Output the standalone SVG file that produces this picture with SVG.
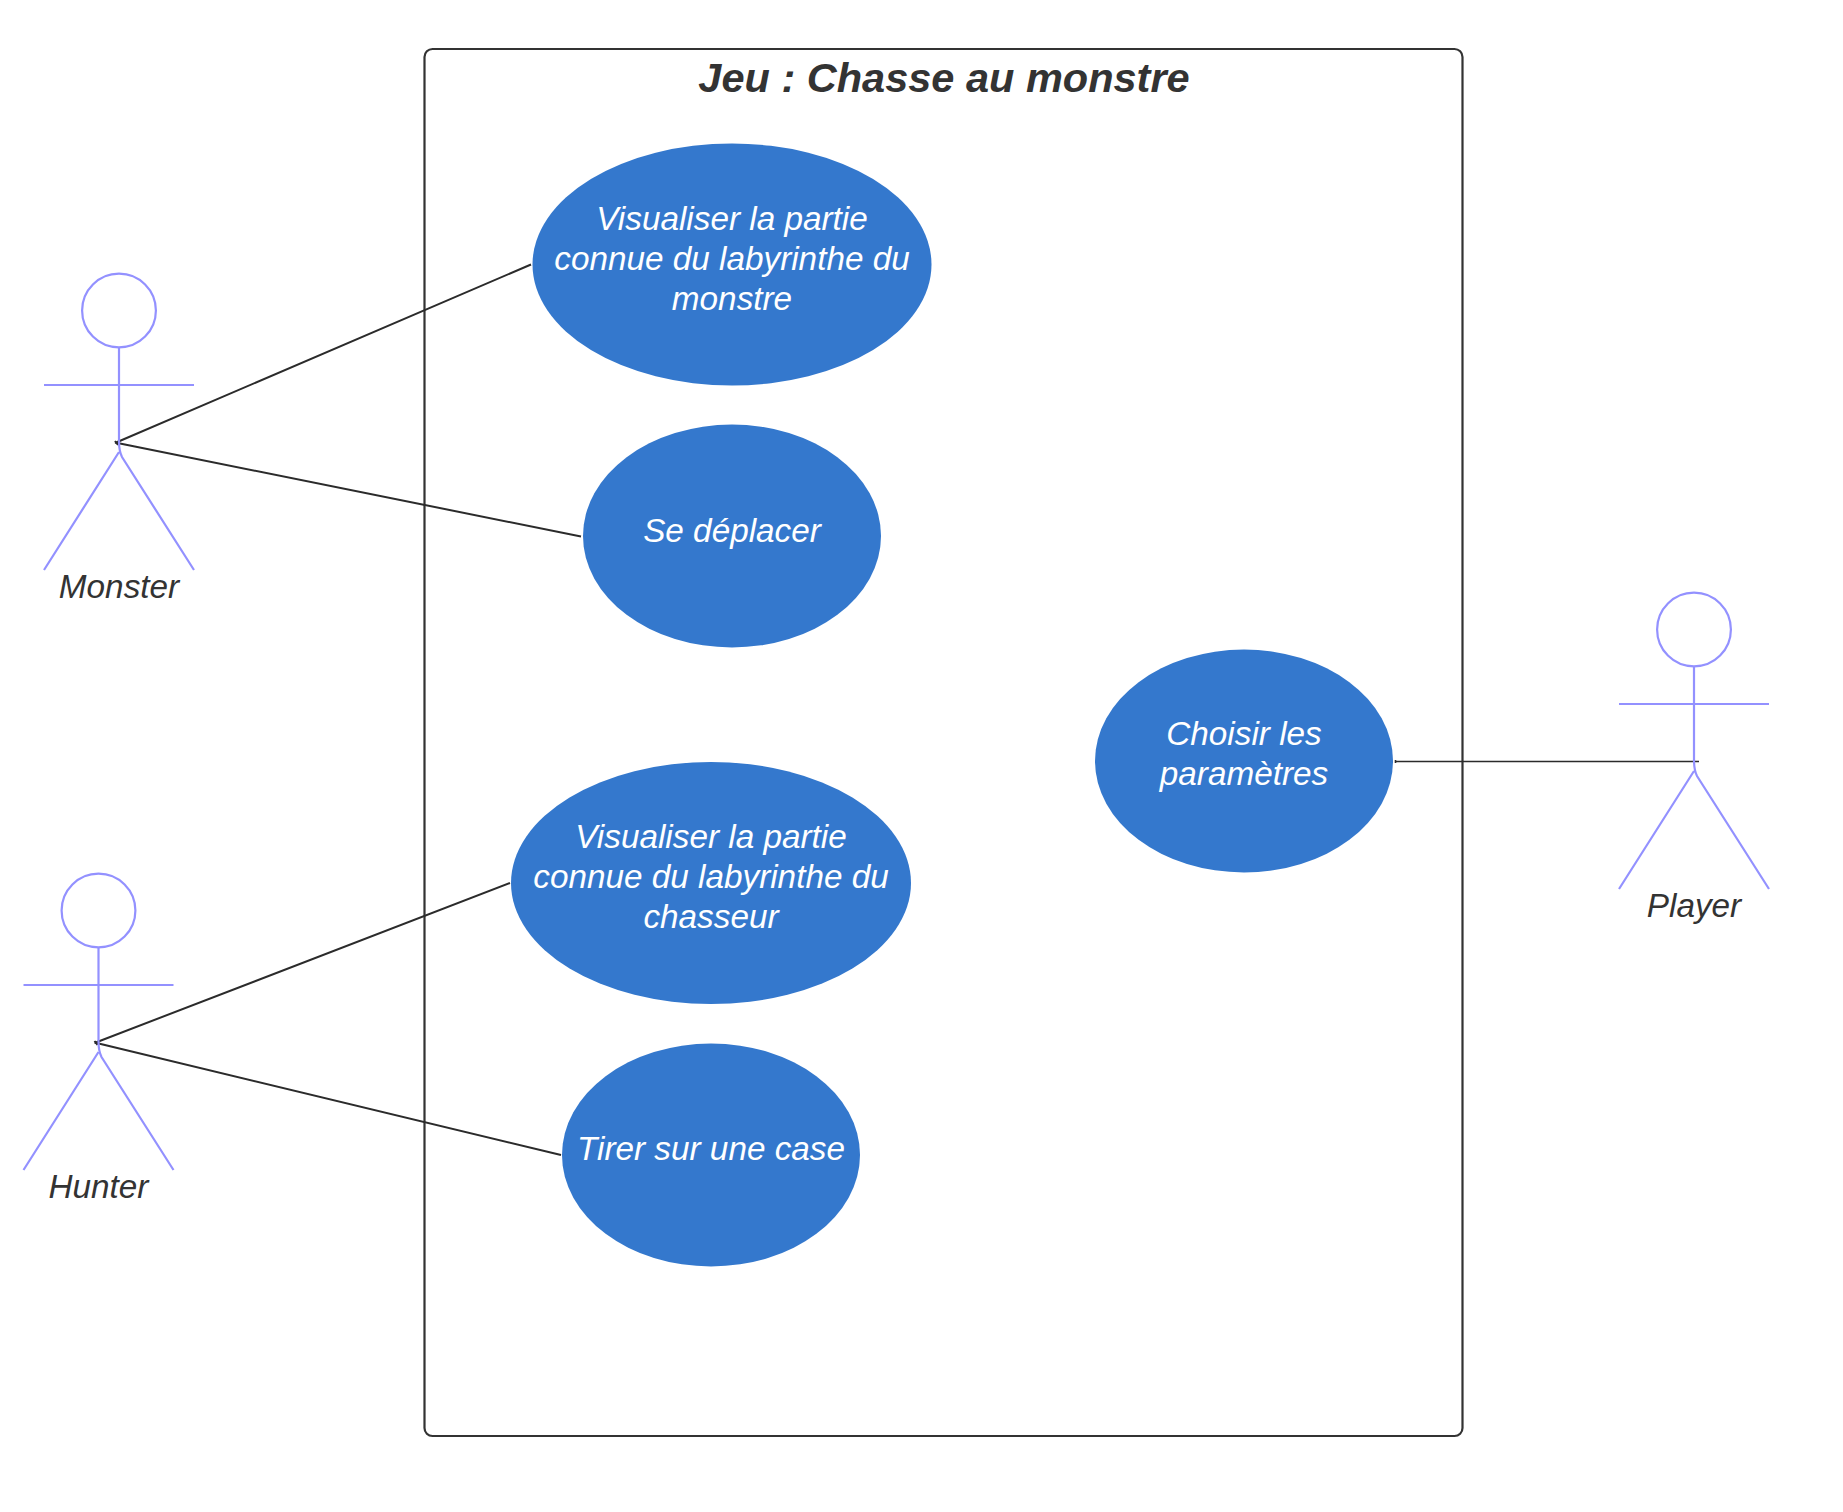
<svg xmlns="http://www.w3.org/2000/svg" width="1843" height="1512" viewBox="0 0 1843 1512">
<style>
text{font-family:"Liberation Sans",Arial,sans-serif;font-style:italic;text-anchor:middle}
.uc{fill:#3478cd}
.uct{fill:#fff;font-size:33.3px}
.act{fill:none;stroke:#9391ff;stroke-width:2.200}
.actt{fill:#333;font-size:33.3px}
.con{fill:none;stroke:#2b2b2b;stroke-width:2}
.thin{stroke-width:1.600}
</style>
<defs>
<g id="stick"><circle class="act" cx="0" cy="-0.500" r="36.900"/><path class="act" d="M0 37V130Q0 140 3 146L75 259M0 141L-75 259M-75 74H75"/></g>
</defs>
<rect width="1843" height="1512" fill="#fff"/>
<g id="system"><rect x="424.500" y="49" width="1038" height="1387" rx="8" fill="#fff" stroke="#333" stroke-width="2.200"/>
<text x="944" y="91.500" font-size="41.500" font-weight="700" fill="#333">Jeu : Chasse au monstre</text></g>
<g id="connectors">
<path class="con" d="M115 443L531 264.500M115 442.500L581 536.500M115 441L118 445"/>
<path class="con" d="M94.500 1043L510 883M94.500 1042.500L561 1155M94.500 1041L97.500 1045"/>
<path class="con thin" d="M1395 761.500H1699M1395.500 760V763"/>
</g>
<g id="uc1"><ellipse class="uc" cx="732" cy="264.500" rx="199.500" ry="121"/><text class="uct" x="732" y="230">Visualiser la partie</text><text class="uct" x="732" y="270">connue du labyrinthe du</text><text class="uct" x="732" y="310">monstre</text></g>
<g id="uc2"><ellipse class="uc" cx="732" cy="536" rx="149" ry="111.500"/><text class="uct" x="732" y="542">Se déplacer</text></g>
<g id="uc3"><ellipse class="uc" cx="711" cy="883" rx="200" ry="121"/><text class="uct" x="711" y="848">Visualiser la partie</text><text class="uct" x="711" y="888">connue du labyrinthe du</text><text class="uct" x="711" y="928">chasseur</text></g>
<g id="uc4"><ellipse class="uc" cx="711" cy="1155" rx="149" ry="111.500"/><text class="uct" x="711" y="1160">Tirer sur une case</text></g>
<g id="uc5"><ellipse class="uc" cx="1244" cy="761" rx="149" ry="111.500"/><text class="uct" x="1244" y="745">Choisir les</text><text class="uct" x="1244" y="785">paramètres</text></g>
<g id="monster"><use href="#stick" x="119" y="311"/><text class="actt" x="119" y="598">Monster</text></g>
<g id="hunter"><use href="#stick" x="98.500" y="911"/><text class="actt" x="98.500" y="1198">Hunter</text></g>
<g id="player"><use href="#stick" x="1694" y="630"/><text class="actt" x="1694" y="917">Player</text></g>
</svg>
